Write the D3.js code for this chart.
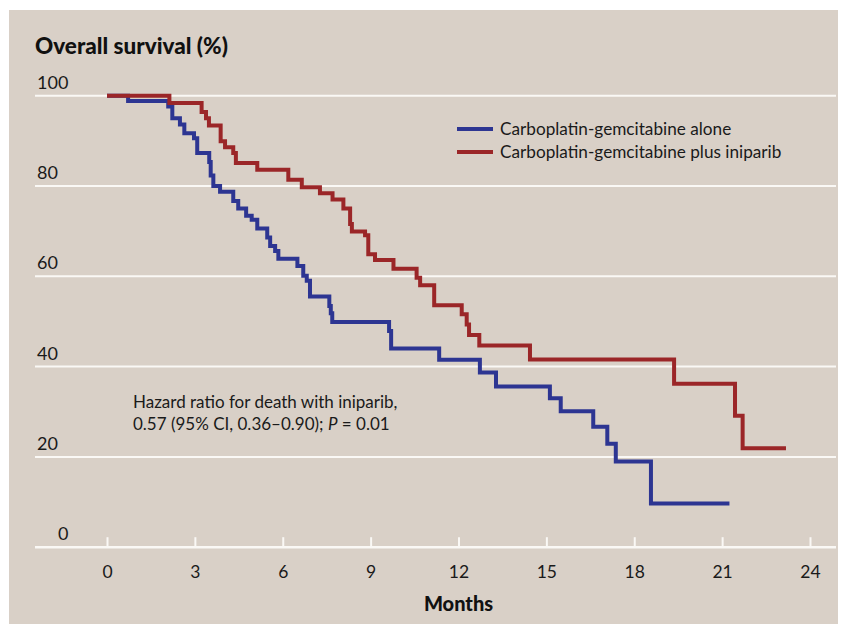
<!DOCTYPE html>
<html>
<head>
<meta charset="utf-8">
<script src="https://cdn.jsdelivr.net/npm/d3@7"></script>
<style>
  body { margin: 0; background: #fff; }
  svg { display: block; font-family: Lato, "Noto Sans", sans-serif; }
</style>
</head>
<body>
<svg id="chart" width="846" height="630"></svg>
<script>
    // *** Data (months, % surviving after each step) ***
    var aloneMonths = [0, 0.72, 2.09, 2.23, 2.49, 2.64, 2.97, 3.08, 3.49, 3.54, 3.63, 3.86, 4.31, 4.48, 4.75, 4.94,
        5.13, 5.47, 5.57, 5.74, 5.85, 6.5, 6.7, 6.82, 6.93, 7.59, 7.64, 7.69, 9.63, 9.7, 11.34, 12.73, 13.28,
        15.12, 15.49, 16.6, 17.08, 17.37, 18.57];
    var aloneSurvival = [100, 98.8, 97.6, 95.0, 93.6, 91.7, 90.6, 87.3, 85.3, 82.3, 80.0, 78.7, 76.7, 75.0, 73.4, 72.5,
        70.6, 68.6, 66.7, 65.6, 63.9, 62.3, 60.1, 59.0, 55.5, 53.4, 51.8, 49.9, 47.9, 44.0, 41.5, 38.7, 35.6,
        33.0, 30.1, 26.7, 22.9, 19.0, 9.7];
    var aloneEnd = 21.25;

    var iniparibMonths = [0, 2.13, 3.23, 3.38, 3.48, 3.88, 4.03, 4.31, 4.40, 5.13, 6.19, 6.65, 7.27, 7.70, 8.07,
        8.30, 8.36, 8.81, 8.92, 9.15, 9.78, 10.57, 10.69, 11.17, 12.11, 12.28, 12.36, 12.71, 14.44, 19.36,
        21.44, 21.70];
    var iniparibSurvival = [100, 98.4, 96.4, 95.0, 93.4, 89.9, 88.6, 87.3, 85.1, 83.6, 81.4, 79.7, 78.4, 77.0, 75.0,
        71.6, 69.9, 69.1, 64.9, 63.6, 61.7, 59.7, 58.0, 53.6, 51.6, 49.3, 47.0, 44.7, 41.6, 36.2,
        29.1, 21.9];
    var iniparibEnd = 23.18;

    var seriesNames = ["Carboplatin-gemcitabine alone", "Carboplatin-gemcitabine plus iniparib"];
    var xTicks = [0, 3, 6, 9, 12, 15, 18, 21, 24];
    var yTicks = [0, 20, 40, 60, 80, 100];

    // *** Chart setup ***
    var chart = d3.select("#chart");

    var color = d3.scaleOrdinal()
        .domain(seriesNames)
        .range(["#2d3592", "#9b2628"]);

    var x = d3.scaleLinear().domain([0, 24]).range([107, 810]);
    var y = d3.scaleLinear().domain([0, 100]).range([547.2, 95.7]);

    // beige panel
    chart.append("rect")
        .attr("x", 9).attr("y", 10)
        .attr("width", 829).attr("height", 614)
        .attr("fill", "#d9d0c7");

    // horizontal grid lines
    chart.append("g").selectAll("line")
        .data(yTicks.filter(d => d > 0)).enter().append("line")
        .attr("x1", 35).attr("x2", 836)
        .attr("y1", d => y(d)).attr("y2", d => y(d))
        .attr("stroke", "#faf8f5")
        .attr("stroke-width", 2);

    chart.append("g").selectAll("text")
        .data(yTicks).enter().append("text")
        .attr("x", d => d === 0 ? 58 : 37)
        .attr("y", d => y(d) - 7)
        .attr("font-size", 18)
        .attr("fill", "#1a1a1a")
        .text(d => d);

    // x axis: white line with ticks pointing up
    var xAxis = d3.axisBottom(x)
        .tickValues(xTicks)
        .tickSizeInner(-10)
        .tickSizeOuter(0)
        .tickPadding(18);

    var xAxisG = chart.append("g")
        .attr("transform", "translate(0," + y(0) + ")")
        .call(xAxis);

    xAxisG.select(".domain").remove();
    xAxisG.insert("line", ":first-child")
        .attr("x1", 35).attr("x2", 836)
        .attr("stroke", "#faf8f5")
        .attr("stroke-width", 2.5);
    xAxisG.selectAll(".tick line")
        .attr("stroke", "#faf8f5")
        .attr("stroke-width", 2);
    xAxisG.selectAll(".tick text")
        .attr("font-family", "Lato, 'Noto Sans', sans-serif")
        .attr("font-size", 17.5)
        .attr("fill", "#1a1a1a");

    // *** Survival step curves ***
    function to_points(months, survival, endMonth) {
        var pts = months.map((m, i) => ({m: m, s: survival[i]}));
        pts.push({m: endMonth, s: survival[survival.length - 1]});
        return pts;
    }

    var stepLine = d3.line()
        .x(d => x(d.m))
        .y(d => y(d.s))
        .curve(d3.curveStepAfter);

    var series = [
        {name: seriesNames[0], points: to_points(aloneMonths, aloneSurvival, aloneEnd)},
        {name: seriesNames[1], points: to_points(iniparibMonths, iniparibSurvival, iniparibEnd)}
    ];

    chart.append("g").selectAll("path")
        .data(series).enter().append("path")
        .attr("fill", "none")
        .attr("stroke", d => color(d.name))
        .attr("stroke-width", 4)
        .attr("d", d => stepLine(d.points));

    // *** Legend ***
    var legendG = chart.selectAll(".legend")
        .data(seriesNames).enter().append("g")
        .attr("class", "legend")
        .attr("transform", (d, i) => "translate(457," + (129 + i * 23) + ")");

    legendG.append("line")
        .attr("x1", 0).attr("x2", 36)
        .attr("stroke", d => color(d))
        .attr("stroke-width", 4);

    legendG.append("text")
        .attr("x", 43)
        .attr("y", 6)
        .attr("font-size", 17.2)
        .attr("fill", "#1a1a1a")
        .text(d => d);

    // *** Titles and annotation ***
    chart.append("text")
        .attr("x", 35).attr("y", 54)
        .attr("font-size", 22.5)
        .attr("font-weight", 900)
        .attr("fill", "#111")
        .text("Overall survival (%)");

    chart.append("text")
        .attr("x", x(12)).attr("y", 611)
        .attr("text-anchor", "middle")
        .attr("font-size", 20)
        .attr("font-weight", 900)
        .attr("fill", "#111")
        .text("Months");

    var note = chart.append("text")
        .attr("font-size", 17)
        .attr("fill", "#1a1a1a");
    note.append("tspan")
        .attr("x", 133).attr("y", 408)
        .text("Hazard ratio for death with iniparib,");
    var line2 = note.append("tspan")
        .attr("x", 133).attr("y", 430);
    line2.append("tspan").text("0.57 (95% CI, 0.36\u20130.90); ");
    line2.append("tspan").attr("font-style", "italic").text("P");
    line2.append("tspan").text(" = 0.01");
</script>
</body>
</html>
